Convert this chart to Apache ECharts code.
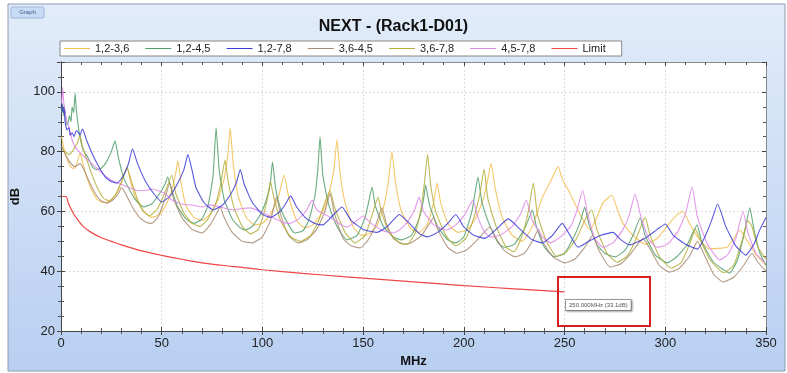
<!DOCTYPE html>
<html>
<head>
<meta charset="utf-8">
<script src="https://cdn.jsdelivr.net/npm/echarts@6/dist/echarts.min.js"></script>
<style>
  html, body { margin: 0; padding: 0; background: #fff; }
  #chart { width: 787px; height: 373px; }
</style>
</head>
<body>
<div id="chart"></div>
<script>
// values: [MHz, dB]
const xTicks = [0, 50, 100, 150, 200, 250, 300, 350]
const yTicks = [20, 40, 60, 80, 100]

const pair12_36 = [[0.3,85],[1.5,81],[3.5,76.6],[5.5,74.5],[7,74.6],[8.3,77],[9.4,79.5],[10.5,77],[12.5,72],[15,67.5],[18,64],[21,63],[24,63.3],[27,65.5],[30,69.5],[32.8,75],[34.5,70],[37,64.5],[41,60],[45,58],[49,59],[52,62],[55,67],[57,73],[58,77],[59.5,70],[62,62],[66,58],[70,57],[74,59],[78,64],[81,71],[83,80],[84,88],[85.5,76],[88,65],[92,58],[96,55.5],[100,56],[104,59],[108,65],[110.7,72.2],[113,65],[117,57],[121,54.5],[125,55.5],[130,60],[133,66],[135.5,74],[137,84],[138.5,73],[141,63],[145,55],[149,52],[153,52.5],[157,55.5],[160,61],[162.5,70],[164.3,80],[166,70],[169,60],[174,54],[178,53],[182,56],[185,63],[186.7,69.5],[188.5,63],[192,56],[197,53],[202,54],[206,58],[210,65],[212,71],[213.5,76.2],[215.5,68],[219,58],[224,52],[229,50],[234,55],[239,64.8],[243,70],[246.8,75],[249,70.5],[252,67],[257,60],[262.6,53.8],[266,58],[269,62.8],[273.5,65.5],[276,61],[279,56],[284,52],[290,49],[296,51],[302,56],[306,59],[308.8,60],[312,56],[316,51.5],[322,47.5],[330.6,48],[334,51],[337,53.8],[340,51],[345,45.5],[350,42]]

const pair12_45 = [[0.3,93],[0.8,96],[1.3,92],[2,94],[2.7,89],[3.5,89.6],[4.2,92],[5,90],[5.5,95],[6.3,93],[7,99.6],[7.6,94],[8.5,89],[9.4,85],[11,80.5],[13.4,78],[15.5,75],[17.5,74],[20,74.5],[22.5,76.5],[25,80],[26.8,83.6],[28.5,78],[31,71.5],[35,66],[38,63],[41,61.5],[45,62.5],[49,66],[51.5,69],[53,71.5],[55,67],[58,61.5],[62,57.5],[66,56],[70,57.5],[73,62],[75.5,72],[77,88],[78.5,74],[81,64],[85,57.5],[89,54.5],[91.5,53.8],[95,55],[99,59],[102,64],[104,70],[105,76.6],[106.5,68],[109,61],[113,55.5],[116,52.8],[120,53.5],[123,57],[126,65],[127.5,74],[128.6,85],[130,72],[133,62],[137,55],[142,50.5],[147,52],[151,58],[153,64],[154.4,68.2],[156,62],[160,55],[165,51.5],[169,50.5],[174,52],[178,58],[180,64],[181,68.8],[183,62],[187,55],[192,50.5],[196,49.5],[200,51.5],[204,60],[205.5,66],[207,71.5],[209,63],[213,55],[217,49.5],[220,48],[225,49],[230,54],[232.5,58],[234,60.5],[236,55],[240,48],[245,44.8],[250,46],[255,52],[258,57],[260,61.5],[262,56],[266,49],[270,46],[275,44.8],[280,47],[284,52],[287.5,57.8],[290,52],[295,45.5],[301,42.8],[306,45],[311,49],[315.8,55.5],[318,50],[324,43],[332,39.4],[336,44],[339,52],[342,61.2],[344,54],[347,46],[350,42]]

const pair12_78 = [[0.3,96],[1,93],[1.5,95],[2,90],[3,87.3],[4,88],[4.5,85.5],[5.5,86.3],[6.5,85],[7.5,87],[8.4,86.6],[9.5,85.5],[10.5,87.5],[11,87.3],[13,83.3],[17,77.2],[22,71.5],[25,70],[28,69.5],[31,72],[33.5,76],[35.5,81],[38,76],[42,70],[46,66],[50,63.2],[54,65],[58,69.5],[61,74],[63,79],[65,74],[67,68],[71,63],[75.5,60.5],[80,62],[84,65.5],[87,69.5],[89,74],[91,69],[95,63],[100,59],[104,58],[108,59.5],[111,62],[114,65.2],[117,61.5],[122,57.5],[126,56],[130,55.5],[134,58],[139.5,61.5],[144,57],[150,54],[157,53],[162,55],[168,59],[173,56],[178,52.5],[182,51.5],[187,53],[192,56],[196,59],[200,54.8],[205,52],[210.5,51],[216,54],[222,57.5],[228,54],[234,50.5],[239,49.5],[244,52],[248.8,56],[252.7,52],[256.7,48],[262,50],[268,52],[274,53],[278,50.5],[282.5,48.8],[287,50],[291,51.5],[296,54],[300,55.8],[304,52],[310,49],[316,47.4],[320,52],[323,57],[326,62.5],[330,55],[335,48.5],[340,45.4],[344,49],[347,54],[350,58]]

const pair36_45 = [[0.3,82],[1.5,80],[3,78],[5,76],[7,75],[9.4,76],[11,74.5],[14,70],[17,66],[20,63.5],[23,62.8],[26,64],[28.5,66],[30,68],[32,66],[35,62],[39,58],[42,56.5],[45,56],[48,58],[51,63],[54,69.5],[56,64],[60,58],[65,54],[70,52.8],[74,55.5],[77,59],[79,61.5],[81,58],[85,53],[90,50],[95,49.5],[100,51.5],[104,57],[107,64.8],[109,59],[113,52],[117.7,49.5],[122,50.5],[127,54],[131,60],[133.6,66],[135.5,60],[140,51],[144,48.5],[148.4,47.8],[152,50],[156,55],[159.4,61.2],[161.5,56],[165,51],[170,49],[174,49.5],[179,52],[183,56],[185,58],[187,54],[192,48],[196.6,46],[201,47],[206,50],[210,53],[213,54.8],[216,51],[220,47],[225.4,44.8],[230,46],[234,50],[237,54],[239,50],[244,45],[250,42.8],[255,44],[260,48],[264,52],[267,47],[272.6,41.4],[278,42.5],[283,46],[289,51],[292,48],[297,42],[302,39.7],[307,41],[312,45],[316,50],[319,46],[324,39],[328.7,36.4],[334,38],[339,42],[343,46],[346,43],[350,40]]

const pair36_78 = [[0.3,81],[2,80],[4,79],[5.5,80],[7,81.6],[8.2,83],[9.4,85.6],[10.5,82],[12.5,78],[15,73],[18,68],[21,64.5],[24,63.5],[27,65.5],[30,70],[32.8,74.5],[35,70],[38,64],[41,60],[44,58.5],[48,61],[52,67],[55,72.2],[57,66],[61,59.5],[65,56],[69,55],[73,57.5],[77,63],[79.5,70],[81.4,77.2],[83,70],[86,61],[90,55],[94,52.5],[98,54],[101,60],[103,66],[104,70],[105.5,65],[109,57],[114,51.5],[119,50],[124,52],[128,57],[131,63],[133.6,67],[136,61],[141,53],[146,49.5],[151,52],[155,60],[157.4,64.8],[159,60],[163,53],[168,49.5],[172,49],[176,53],[179,62],[180.5,70],[182,79],[183.5,69],[186,60],[191,52],[196,48.5],[201,51],[205,58],[208,66],[210,74.2],[212,64],[216,55],[221,48],[225,46.5],[229,52],[232,60],[234.5,69.5],[236.5,59],[241,50],[246,45],[251,46.5],[256,51],[260,57],[263.5,60.5],[266,54],[271,46],[276,43],[281,45],[285,50],[288.5,56],[290,58],[292.5,52],[297,45],[303,41],[308,43],[312,49],[315,54],[317,51],[322,44],[329,39.5],[334,42],[338,50],[341,57],[343,55],[346,48],[350,44]]

const pair45_78 = [[0.3,96],[0.8,101.5],[1.3,97],[2,93],[3,90],[4,88],[5.5,84],[7,81.6],[9,80],[12,78],[17,75],[21,72.5],[25,70.5],[30,69],[34,68],[38,67],[42,67],[45,67.5],[48,67],[51.6,66],[55,63.8],[60,62.5],[66.5,62],[70,61.5],[74,62.2],[79,61.5],[85.4,60.5],[90,61],[94,61.2],[99,60],[105,58],[110,56.5],[113.7,56],[118,57.5],[122,60.5],[124.6,63.8],[127,60.5],[133.6,58],[138,56],[142,54.8],[147,57],[150,58.5],[154,56],[160,53.5],[165,52.8],[168,53.8],[172,56.5],[175.5,60.5],[177.8,64.8],[180,60],[185,55.5],[191.6,53.8],[196,55.5],[200,58.5],[204.5,63.8],[207,58],[210,53.5],[213,51.5],[218,52],[224,55],[228,59],[231,63.8],[234,57],[239,51.5],[243,49.5],[248,51.5],[253,55],[256,60],[259,67],[261.5,59],[265,51],[269,48],[274,49.5],[279,54],[282,58.5],[285,65.8],[288,58],[292,50.5],[296,48],[301,49],[306,53],[310,59],[313.3,68.2],[316,58],[321,49],[327,43.8],[331,45.5],[335,51],[338.6,60],[341,53],[345,46],[349.5,42.8]]

const pairLimit = [[0.5,65],[2.5,65],[3.5,63],[4.5,61.5],[6,59.5],[8,57.5],[11,55],[15,53],[20,51.2],[25,50],[30,48.8],[40,46.8],[50,45.3],[60,44],[70,42.8],[85,41.6],[100,40.5],[120,39.3],[140,38.2],[160,37.2],[180,36.2],[200,35.2],[225,34.1],[250,33.1]]

const names = ['1,2-3,6', '1,2-4,5', '1,2-7,8', '3,6-4,5', '3,6-7,8', '4,5-7,8', 'Limit']
const colors = ['#f3bd4f', '#4f9e68', '#3a3ad6', '#a88a72', '#b3ad3a', '#df86e6', '#f04646']
const seriesData = [pair12_36, pair12_45, pair12_78, pair36_45, pair36_78, pair45_78, pairLimit]

const font = '"Liberation Sans", Arial, sans-serif'

const chart = echarts.init(document.getElementById('chart'))

// 轴（带四边刻度）
function frameAxis(pos, isX, labels) {
	const ax = {
		type: 'value',
		position: pos,
		min: isX ? xTicks[0] : yTicks[0],
		max: isX ? xTicks[xTicks.length - 1] : 110,
		interval: isX ? 50 : 20,
		axisLine: { show: true, onZero: false, lineStyle: { color: labels ? '#444' : '#8a8a8a', width: 1 } },
		axisTick: { show: true, inside: !labels, length: 4, lineStyle: { color: '#444' } },
		minorTick: { show: true, splitNumber: isX ? 5 : 4, length: 3, lineStyle: { color: '#555' } },
		axisLabel: { show: labels, color: '#222', fontSize: 13, fontFamily: font, margin: 6, showMaxLabel: isX },
		splitLine: { show: labels, lineStyle: { color: '#dcdcdc', type: [2, 2] } }
	}
	return ax
}

const xAxes = [frameAxis('bottom', true, true), frameAxis('top', true, false), frameAxis('bottom', true, false)]
xAxes[2].axisLine.show = false
xAxes[0].name = 'MHz'
xAxes[0].nameLocation = 'middle'
xAxes[0].nameGap = 18
xAxes[0].nameTextStyle = { fontWeight: 'bold', fontSize: 13, color: '#111', fontFamily: font }

const yAxes = [frameAxis('left', false, true), frameAxis('right', false, false), frameAxis('left', false, false)]
yAxes[2].axisLine.show = false
yAxes[0].name = 'dB'
yAxes[0].nameLocation = 'middle'
yAxes[0].nameGap = 29
yAxes[0].nameTextStyle = { fontWeight: 'bold', fontSize: 13, color: '#111', fontFamily: font }

const option = {
	backgroundColor: '#fff',
	animation: false,
	title: {
		text: 'NEXT - (Rack1-D01)',
		left: 'center',
		top: 14,
		textStyle: { fontSize: 16, fontWeight: 'bold', color: '#111', fontFamily: font }
	},
	legend: {
		data: names,
		left: 60,
		top: 41,
		padding: [2, 16, 2, 4],
		backgroundColor: '#fff',
		borderColor: '#888',
		borderWidth: 1,
		borderRadius: 0,
		itemWidth: 26,
		itemHeight: 1,
		itemGap: 16,
		icon: 'rect',
		textStyle: { fontSize: 11, color: '#222', fontFamily: font }
	},
	grid: {
		left: 61,
		right: 21,
		top: 62,
		bottom: 42,
		show: true,
		backgroundColor: '#fff',
		borderColor: 'transparent'
	},
	xAxis: xAxes,
	yAxis: yAxes,
	graphic: [
		{
			type: 'rect',
			z: -10,
			silent: true,
			shape: { x: 8, y: 4, width: 777, height: 367 },
			style: {
				fill: new echarts.graphic.LinearGradient(0, 0, 0, 1, [
					{ offset: 0, color: '#e2ecfa' },
					{ offset: 1, color: '#b8cff1' }
				]),
				stroke: '#8d9bb0',
				lineWidth: 1
			}
		},
		{
			type: 'rect',
			silent: true,
			shape: { x: 11, y: 7, width: 33, height: 11, r: 1 },
			style: { fill: '#c9dcf6', stroke: '#9fb6d8', lineWidth: 1 }
		},
		{
			type: 'text',
			silent: true,
			x: 27.5,
			y: 12.5,
			style: { text: 'Graph', font: '6px ' + font, fill: '#3a5a8a', align: 'center', verticalAlign: 'middle' }
		},
		{
			type: 'rect',
			silent: true,
			z: 20,
			shape: { x: 558, y: 277, width: 92, height: 49 },
			style: { fill: 'none', stroke: '#d91e1e', lineWidth: 2 }
		},
		{
			type: 'text',
			silent: true,
			z: 21,
			x: 566,
			y: 300,
			style: {
				text: '250.000MHz (33.1dB)',
				font: '6px ' + font,
				fill: '#555',
				backgroundColor: '#fff',
				borderColor: '#9a9a9a',
				borderWidth: 1,
				padding: [2, 3],
				shadowBlur: 2,
				shadowColor: 'rgba(0,0,0,0.25)',
				shadowOffsetX: 1,
				shadowOffsetY: 1
			}
		}
	],
	series: names.map((n, i) => ({
		name: n,
		type: 'line',
		data: seriesData[i],
		showSymbol: false,
		smooth: i === 6 ? 0.3 : 0.15,
		color: colors[i],
		lineStyle: { width: i === 6 ? 1.2 : 1.1, opacity: i === 6 ? 1 : 0.85 },
		emphasis: { disabled: true },
		z: i === 2 ? 5 : 3
	}))
}

chart.setOption(option)
</script>
</body>
</html>
